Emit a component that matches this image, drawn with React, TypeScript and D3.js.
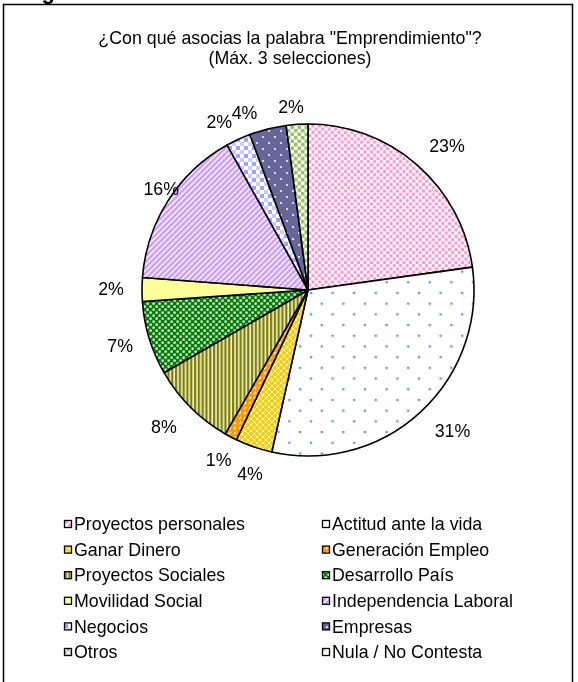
import React from "react";
import * as d3 from "d3";

const CATEGORIES = [
  "Proyectos personales",
  "Actitud ante la vida",
  "Ganar Dinero",
  "Generación Empleo",
  "Proyectos Sociales",
  "Desarrollo País",
  "Movilidad Social",
  "Independencia Laboral",
  "Negocios",
  "Empresas",
  "Otros",
  "Nula / No Contesta",
];
const VALUES = [22.8, 30.7, 3.6, 1.2, 8.4, 7.2, 2.3, 15.7, 2.4, 3.6, 2.1, 0];
const TITLE_LINES = ['¿Con qué asocias la palabra "Emprendimiento"?', "(Máx. 3 selecciones)"];

// label placement tweaks (angle delta in degrees, radius in px)
const LABEL_ADJUST: [number, number][] = [
  [3, 200], [-3, 202], [-1.6, 193], [0, 192], [1.4, 199], [0.3, 196],
  [0.2, 197], [1.9, 178], [-3, 190], [-5.7, 188], [-1.5, 184], [0, 196],
];

const W = 578;
const H = 682;
const CX = 308;
const CY = 290;
const R = 166;
const FS = 17.8;
const FONT = "Arial, 'Liberation Sans', sans-serif";

function Patterns() {
  return (
    <defs>
      <pattern id="pat0" width={6.5} height={6.5} patternUnits="userSpaceOnUse">
        <rect width={6.5} height={6.5} fill="#fff" />
        <rect x={0.2} y={0.2} width={3} height={3} fill="#ff8fcf" />
        <rect x={3.45} y={3.45} width={3} height={3} fill="#ff8fcf" />
      </pattern>
      <pattern id="pat1" width={21.6} height={21.4} patternUnits="userSpaceOnUse">
        <rect width={21.6} height={21.4} fill="#fff" />
        <circle cx={3} cy={3} r={1.4} fill="#6b9bd6" />
        <circle cx={13.8} cy={13.7} r={1.4} fill="#6b9bd6" />
      </pattern>
      <pattern id="pat2" width={6} height={6} patternUnits="userSpaceOnUse">
        <rect width={6} height={6} fill="#ffcc00" />
        <path d="M0,0L6,6M6,0L0,6" stroke="#fff6d0" strokeWidth={1} />
      </pattern>
      <pattern id="pat3" width={5} height={5} patternUnits="userSpaceOnUse">
        <rect width={5} height={5} fill="#ff9900" />
        <path d="M1,4L3,2" stroke="#fff" strokeWidth={1.3} />
      </pattern>
      <pattern id="pat4" width={3.8} height={4} patternUnits="userSpaceOnUse">
        <rect width={3.8} height={4} fill="#f0f0d6" />
        <rect x={0} width={2.2} height={4} fill="#808000" />
      </pattern>
      <pattern id="pat5" width={6} height={6} patternUnits="userSpaceOnUse">
        <rect width={6} height={6} fill="#008000" />
        <rect x={0.5} y={0.5} width={2.2} height={2.2} fill="#fff" />
        <rect x={3.5} y={3.5} width={2.2} height={2.2} fill="#fff" />
      </pattern>
      <pattern id="pat6" width={4} height={4} patternUnits="userSpaceOnUse">
        <rect width={4} height={4} fill="#ffff99" />
      </pattern>
      <pattern id="pat7" width={4} height={4} patternUnits="userSpaceOnUse" patternTransform="rotate(45)">
        <rect width={4} height={4} fill="#fff" />
        <rect width={2.5} height={4} fill="#cc99ff" />
      </pattern>
      <pattern id="pat8" width={8} height={8} patternUnits="userSpaceOnUse">
        <rect width={8} height={8} fill="#fff" />
        <rect x={0} y={0} width={4} height={4} fill="#9da3ff" />
        <rect x={4} y={4} width={4} height={4} fill="#c8ccff" />
      </pattern>
      <pattern id="pat9" width={12} height={12} patternUnits="userSpaceOnUse">
        <rect width={12} height={12} fill="#666699" />
        <circle cx={3} cy={3} r={1} fill="#fff" />
        <circle cx={9} cy={9} r={1} fill="#fff" />
      </pattern>
      <pattern id="pat10" width={7} height={7} patternUnits="userSpaceOnUse">
        <rect width={7} height={7} fill="#fff" />
        <rect x={0} y={0} width={3.5} height={3.5} fill="#99c260" />
        <rect x={3.5} y={3.5} width={3.5} height={3.5} fill="#99c260" />
      </pattern>
      <pattern id="pat11" width={7} height={7} patternUnits="userSpaceOnUse">
        <rect width={7} height={7} fill="#fff" />
        <path d="M0,7L0,3L4,7Z" fill="#ffb070" />
      </pattern>
    </defs>
  );
}

export default function App() {
  const total = d3.sum(VALUES);
  const arcs = d3.pie<number>().sort(null).value((d) => d)(VALUES);
  const arcGen = d3.arc<d3.PieArcDatum<number>>().innerRadius(0).outerRadius(R);

  const legendX = [64, 322];
  const legendY0 = 524;
  const legendStep = 25.6;

  return (
    <div style={{ position: "fixed", left: 0, top: 0 }}>
      <svg width={W} height={H} style={{ display: "block", fontFamily: FONT }}>
        <Patterns />
        <rect x={0} y={0} width={W} height={H} fill="#fff" />
        <text x={22} y={-1} fontSize={22} fontWeight="bold" fill="#000">Figura</text>
        <rect x={3.5} y={4.5} width={569} height={H + 10} fill="#fff" stroke="#000" strokeWidth={1.5} />
        {TITLE_LINES.map((t, i) => (
          <text key={i} x={290} y={44 + i * 19.5} fontSize={FS} textAnchor="middle" fill="#000">{t}</text>
        ))}
        <g transform={`translate(${CX},${CY})`}>
          {arcs.map((a, i) =>
            a.value > 0 ? (
              <path key={i} d={arcGen(a) || ""} fill={`url(#pat${i})`} stroke="#000" strokeWidth={1.6} strokeLinejoin="round" />
            ) : null
          )}
          {arcs.map((a, i) => {
            if (a.value <= 0) return null;
            const [dDeg, rad] = LABEL_ADJUST[i];
            const ang = (a.startAngle + a.endAngle) / 2 + (dDeg * Math.PI) / 180;
            const x = rad * Math.sin(ang);
            const y = -rad * Math.cos(ang);
            return (
              <text key={i} x={x} y={y} dy="0.35em" fontSize={FS} textAnchor="middle" fill="#000">
                {Math.round((a.value / total) * 100)}%
              </text>
            );
          })}
        </g>
        {CATEGORIES.map((c, i) => {
          const col = i % 2;
          const row = Math.floor(i / 2);
          const y = legendY0 + row * legendStep;
          return (
            <g key={c}>
              <rect x={legendX[col] + 0.5} y={y - 3.5} width={7} height={7} fill={`url(#pat${i})`} stroke="#000" strokeWidth={1.3} />
              <text x={legendX[col] + 10} y={y} dy="0.35em" fontSize={FS} fill="#000">{c}</text>
            </g>
          );
        })}
      </svg>
    </div>
  );
}
